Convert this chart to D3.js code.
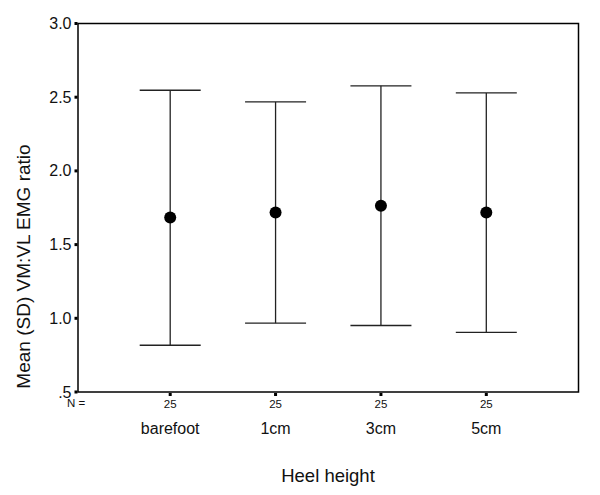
<!DOCTYPE html>
<html><head><meta charset="utf-8">
<script src="https://cdn.jsdelivr.net/npm/d3@7"></script>
<style>body{margin:0;background:#fff}svg{display:block;font-family:"Liberation Sans",Arial,sans-serif}</style>
</head><body>
<svg id="c" width="600" height="495"></svg>
<script>
const categories = ["barefoot", "1cm", "3cm", "5cm"];
const means = [1.684, 1.718, 1.763, 1.717];
const upper = [2.547, 2.468, 2.577, 2.529];
const lower = [0.817, 0.967, 0.951, 0.904];
const nValues = [25, 25, 25, 25];
const yTicks = [0.5, 1.0, 1.5, 2.0, 2.5, 3.0];
const yTickLabels = [".5", "1.0", "1.5", "2.0", "2.5", "3.0"];

const svg = d3.select("#c");
const L = 78, R = 578.5, T = 23.5, B = 392;
const x = d3.scalePoint().domain(categories).range([L, R]).padding(0.875);
const y = d3.scaleLinear().domain([0.5, 3.0]).range([B, T]);

// frame
svg.append("rect").attr("x", L).attr("y", T).attr("width", R - L).attr("height", B - T)
  .attr("fill", "none").attr("stroke", "#000").attr("stroke-width", 1.5);

// y ticks and labels
const yAxis = svg.append("g");
yTicks.forEach((t, i) => {
  yAxis.append("rect").attr("x", L - 3.5).attr("y", y(t) - 1.5).attr("width", 3).attr("height", 3).attr("fill", "#000");
  yAxis.append("text").attr("x", 71.5).attr("y", y(t) + 5.5).attr("text-anchor", "end")
    .attr("font-size", 16).attr("fill", "#111").text(yTickLabels[i]);
});

// x ticks, N labels, category labels
svg.append("text").attr("x", 67).attr("y", 407).attr("font-size", 11.5).attr("fill", "#111").text("N =");
categories.forEach((c, i) => {
  const cx = x(c);
  svg.append("rect").attr("x", cx - 1.5).attr("y", B + 1).attr("width", 3).attr("height", 3).attr("fill", "#000");
  svg.append("text").attr("x", cx).attr("y", 407.5).attr("text-anchor", "middle").attr("font-size", 11.5).attr("fill", "#111").text(nValues[i]);
  svg.append("text").attr("x", cx).attr("y", 433.5).attr("text-anchor", "middle").attr("font-size", 16).attr("fill", "#111").text(c);
});

// error bars
const g = svg.append("g");
categories.forEach((c, i) => {
  const cx = x(c);
  g.append("line").attr("x1", cx).attr("x2", cx).attr("y1", y(upper[i])).attr("y2", y(lower[i]))
    .attr("stroke", "#222").attr("stroke-width", 1.3);
  [upper[i], lower[i]].forEach(v => {
    g.append("line").attr("x1", cx - 30.5).attr("x2", cx + 30.5).attr("y1", y(v)).attr("y2", y(v))
      .attr("stroke", "#222").attr("stroke-width", 1.3);
  });
  g.append("circle").attr("cx", cx).attr("cy", y(means[i])).attr("r", 6).attr("fill", "#000");
});

// axis titles
svg.append("text").attr("x", 328).attr("y", 481.5).attr("text-anchor", "middle").attr("font-size", 18.5).attr("fill", "#111").text("Heel height");
svg.append("text").attr("transform", "translate(30,266.5) rotate(-90)").attr("text-anchor", "middle")
  .attr("font-size", 19).attr("fill", "#111").text("Mean (SD) VM:VL EMG ratio");
</script>
</body></html>
